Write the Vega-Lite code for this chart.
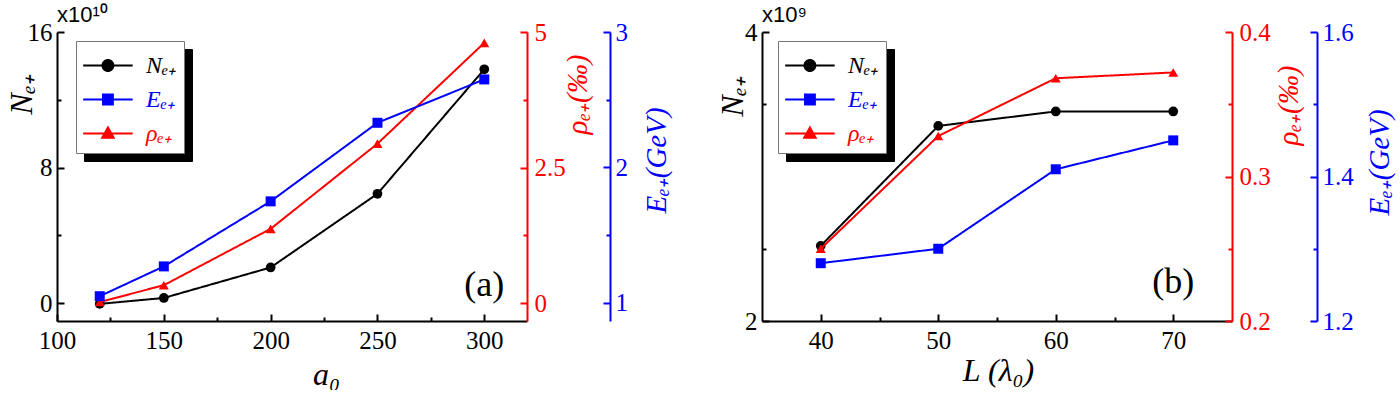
{
  "$schema": "https://vega.github.io/schema/vega-lite/v6.json",
  "background": "white",
  "padding": {"left": 5, "top": 4, "right": 5, "bottom": 0},
  "datasets": {
    "a": [
      {"a0": 120, "series": "N", "value": -0.05},
      {"a0": 150, "series": "N", "value": 0.3},
      {"a0": 200, "series": "N", "value": 2.1},
      {"a0": 250, "series": "N", "value": 6.45},
      {"a0": 300, "series": "N", "value": 13.8},
      {"a0": 120, "series": "E", "value": 1.05},
      {"a0": 150, "series": "E", "value": 1.27},
      {"a0": 200, "series": "E", "value": 1.75},
      {"a0": 250, "series": "E", "value": 2.33},
      {"a0": 300, "series": "E", "value": 2.65},
      {"a0": 120, "series": "rho", "value": 0.02},
      {"a0": 150, "series": "rho", "value": 0.33},
      {"a0": 200, "series": "rho", "value": 1.37},
      {"a0": 250, "series": "rho", "value": 2.94},
      {"a0": 300, "series": "rho", "value": 4.8}
    ],
    "b": [
      {"L": 40, "series": "N", "value": 2.52},
      {"L": 50, "series": "N", "value": 3.35},
      {"L": 60, "series": "N", "value": 3.45},
      {"L": 70, "series": "N", "value": 3.45},
      {"L": 40, "series": "E", "value": 1.28},
      {"L": 50, "series": "E", "value": 1.30},
      {"L": 60, "series": "E", "value": 1.41},
      {"L": 70, "series": "E", "value": 1.45},
      {"L": 40, "series": "rho", "value": 0.25},
      {"L": 50, "series": "rho", "value": 0.328},
      {"L": 60, "series": "rho", "value": 0.368},
      {"L": 70, "series": "rho", "value": 0.372}
    ],
    "la": [{"a0": 300, "value": 1.06, "label": "(a)"}],
    "lb": [{"L": 70, "value": 2.27, "label": "(b)"}]
  },
  "spacing": 45,
  "resolve": {"scale": {"color": "independent", "strokeDash": "independent"}, "legend": {"color": "independent", "strokeDash": "independent"}},
  "hconcat": [
    {
      "width": 470,
      "height": 289,
      "title": {"text": "x10¹⁰", "anchor": "start", "frame": "group", "font": "Liberation Sans", "fontSize": 22, "fontWeight": "normal", "offset": -7, "color": "black"},
      "data": {"name": "a"},
      "layer": [
        {
          "transform": [{"filter": "datum.series === 'N'"}],
          "mark": {"type": "line", "strokeWidth": 2},
          "encoding": {
            "x": {"field": "a0", "type": "quantitative", "scale": {"domain": [100, 320], "nice": false, "zero": false},
              "axis": {"orient": "bottom", "values": [100, 150, 200, 250, 300], "format": "d", "tickSize": -7, "labelPadding": 14, "labelFont": "Liberation Serif", "labelFontSize": 25, "labelColor": "black", "domainColor": "black", "tickColor": "black",
                "title": "a₀", "titleFont": "Liberation Serif", "titleFontStyle": "italic", "titleFontSize": 32, "titleColor": "black", "titleX": 269, "titleY": 53, "titleAlign": "center", "titleBaseline": "middle"}},
            "y": {"field": "value", "type": "quantitative", "scale": {"domain": [-1.06, 16], "nice": false, "zero": false},
              "axis": {"orient": "left", "values": [0, 8, 16], "format": "d", "tickSize": -7, "labelPadding": 12, "labelFont": "Liberation Serif", "labelFontSize": 25, "labelColor": "black", "domainColor": "black", "tickColor": "black",
                "title": "Nₑ₊", "titleFont": "Liberation Serif", "titleFontStyle": "italic", "titleFontSize": 32, "titleColor": "black", "titleAngle": -90, "titleX": -36, "titleY": 62, "titleAlign": "center", "titleBaseline": "middle"}},
            "color": {"field": "series", "type": "nominal", "scale": {"domain": ["N", "E", "rho"], "range": ["#000000", "#0000ff", "#ff0000"]},
              "legend": {"orient": "none", "legendX": 19, "legendY": 9, "title": null, "zindex": 2, "fillColor": "white", "strokeColor": "#777777",
                "padding": 7, "rowPadding": 4, "symbolSize": 1089, "labelOffset": 28, "labelFontSize": 24, "labelFont": "Liberation Serif", "labelFontStyle": "italic",
                "labelExpr": "datum.value === 'N' ? 'Nₑ₊' : datum.value === 'E' ? 'Eₑ₊' : 'ρₑ₊'",
                "encode": {
                  "symbols": {"update": {
                    "shape": {"signal": "datum.value === 'N' ? 'M-1.05,0H1.95M0.78,0A0.33,0.33 0 1,1 0.12,0A0.33,0.33 0 1,1 0.78,0Z' : datum.value === 'E' ? 'M-1.05,0H1.95M0.15,-0.3H0.75V0.3H0.15Z' : 'M-1.05,0H1.95M0.45,-0.36L0.8,0.26H0.1Z'"},
                    "fill": {"signal": "datum.value === 'N' ? '#000000' : datum.value === 'E' ? '#0000ff' : '#ff0000'"},
                    "stroke": {"signal": "datum.value === 'N' ? '#000000' : datum.value === 'E' ? '#0000ff' : '#ff0000'"},
                    "strokeWidth": {"value": 2}, "opacity": {"value": 1}, "strokeDash": {"value": [1, 0]}}},
                  "labels": {"update": {"fill": {"signal": "datum.value === 'N' ? '#000000' : datum.value === 'E' ? '#0000ff' : '#ff0000'"}}}
                }}},
            "strokeDash": {"field": "series", "type": "nominal", "scale": {"domain": ["E", "N", "rho"], "range": [[1, 0], [1, 0], [1, 0]]},
              "legend": {"orient": "none", "legendX": 27, "legendY": 17, "title": null, "zindex": 1, "fillColor": "black", "strokeColor": "black",
                "padding": 7, "rowPadding": 4, "symbolSize": 1089, "labelOffset": 59, "labelFontSize": 24, "labelFont": "Liberation Serif", "labelColor": "black",
                "labelExpr": "''",
                "encode": {"symbols": {"update": {"opacity": {"value": 0}}}}}}
          }
        },
        {
          "transform": [{"filter": "datum.series === 'N'"}],
          "mark": {"type": "point", "shape": "circle", "filled": true, "size": 95, "opacity": 1},
          "encoding": {
            "x": {"field": "a0", "type": "quantitative", "axis": {"orient": "bottom", "values": [125, 175, 225, 275], "tickSize": -4, "labels": false, "domain": false, "title": null, "tickColor": "black"}},
            "y": {"field": "value", "type": "quantitative", "scale": {"domain": [-1.06, 16], "nice": false, "zero": false},
              "axis": {"orient": "left", "values": [4, 12], "tickSize": -4, "labels": false, "domain": false, "title": null, "tickColor": "black"}},
            "color": {"field": "series", "type": "nominal"}
          }
        },
        {
          "transform": [{"filter": "datum.series === 'rho'"}],
          "mark": {"type": "line", "strokeWidth": 2},
          "encoding": {
            "x": {"field": "a0", "type": "quantitative", "axis": null},
            "y": {"field": "value", "type": "quantitative", "scale": {"domain": [-0.33, 5], "nice": false, "zero": false},
              "axis": {"orient": "right", "values": [0, 2.5, 5], "format": ".1~f", "tickSize": -7, "labelPadding": 14, "labelFont": "Liberation Serif", "labelFontSize": 25, "labelColor": "#ff0000", "domainColor": "#ff0000", "tickColor": "#ff0000",
                "title": "ρₑ₊(‰)", "titleFont": "Liberation Serif", "titleFontStyle": "italic", "titleFontSize": 29, "titleColor": "#ff0000", "titleAngle": -90, "titleX": 50, "titleY": 62, "titleAlign": "center", "titleBaseline": "middle"}},
            "color": {"field": "series", "type": "nominal"},
            "strokeDash": {"field": "series", "type": "nominal"}
          }
        },
        {
          "transform": [{"filter": "datum.series === 'rho'"}],
          "mark": {"type": "point", "shape": "triangle-up", "filled": true, "size": 100, "opacity": 1},
          "encoding": {
            "x": {"field": "a0", "type": "quantitative", "axis": null},
            "y": {"field": "value", "type": "quantitative", "scale": {"domain": [-0.33, 5], "nice": false, "zero": false},
              "axis": {"orient": "right", "values": [1.25, 3.75], "tickSize": -4, "labels": false, "domain": false, "title": null, "tickColor": "#ff0000"}},
            "color": {"field": "series", "type": "nominal"}
          }
        },
        {
          "transform": [{"filter": "datum.series === 'E'"}],
          "mark": {"type": "line", "strokeWidth": 2},
          "encoding": {
            "x": {"field": "a0", "type": "quantitative", "axis": null},
            "y": {"field": "value", "type": "quantitative", "scale": {"domain": [0.867, 3], "nice": false, "zero": false},
              "axis": {"orient": "right", "offset": 83, "values": [1, 2, 3], "format": "d", "tickSize": -7, "labelPadding": 12, "labelFont": "Liberation Serif", "labelFontSize": 25, "labelColor": "#0000ff", "domainColor": "#0000ff", "tickColor": "#0000ff",
                "title": "Eₑ₊(GeV)", "titleFont": "Liberation Serif", "titleFontStyle": "italic", "titleFontSize": 29, "titleColor": "#0000ff", "titleAngle": -90, "titleX": 46, "titleY": 128, "titleAlign": "center", "titleBaseline": "middle"}},
            "color": {"field": "series", "type": "nominal"},
            "strokeDash": {"field": "series", "type": "nominal"}
          }
        },
        {
          "transform": [{"filter": "datum.series === 'E'"}],
          "mark": {"type": "point", "shape": "square", "filled": true, "size": 100, "opacity": 1},
          "encoding": {
            "x": {"field": "a0", "type": "quantitative", "axis": null},
            "y": {"field": "value", "type": "quantitative", "scale": {"domain": [0.867, 3], "nice": false, "zero": false},
              "axis": {"orient": "right", "offset": 83, "values": [1.5, 2.5], "tickSize": -4, "labels": false, "domain": false, "title": null, "tickColor": "#0000ff"}},
            "color": {"field": "series", "type": "nominal"}
          }
        },
        {
          "data": {"name": "la"},
          "mark": {"type": "text", "font": "Liberation Serif", "fontSize": 36, "align": "center", "baseline": "middle", "color": "black"},
          "encoding": {
            "x": {"field": "a0", "type": "quantitative", "axis": null},
            "y": {"field": "value", "type": "quantitative", "scale": {"domain": [-1.06, 16], "nice": false, "zero": false}, "axis": null},
            "text": {"field": "label"}
          }
        }
      ],
      "resolve": {"scale": {"y": "independent"}, "axis": {"x": "independent", "y": "independent"}}
    },
    {
      "width": 470,
      "height": 289,
      "title": {"text": "x10⁹", "anchor": "start", "frame": "group", "font": "Liberation Sans", "fontSize": 22, "fontWeight": "normal", "offset": -7, "color": "black"},
      "data": {"name": "b"},
      "layer": [
        {
          "transform": [{"filter": "datum.series === 'N'"}],
          "mark": {"type": "line", "strokeWidth": 2},
          "encoding": {
            "x": {"field": "L", "type": "quantitative", "scale": {"domain": [35, 75], "nice": false, "zero": false},
              "axis": {"orient": "bottom", "values": [40, 50, 60, 70], "format": "d", "tickSize": -7, "labelPadding": 14, "labelFont": "Liberation Serif", "labelFontSize": 25, "labelColor": "black", "domainColor": "black", "tickColor": "black",
                "title": "L (λ₀)", "titleFont": "Liberation Serif", "titleFontStyle": "italic", "titleFontSize": 32, "titleColor": "black", "titleX": 236, "titleY": 49, "titleAlign": "center", "titleBaseline": "middle"}},
            "y": {"field": "value", "type": "quantitative", "scale": {"domain": [2, 4], "nice": false, "zero": false},
              "axis": {"orient": "left", "values": [2, 3, 4], "format": "d", "tickSize": -7, "labelPadding": 12, "labelFont": "Liberation Serif", "labelFontSize": 25, "labelColor": "black", "domainColor": "black", "tickColor": "black",
                "title": "Nₑ₊", "titleFont": "Liberation Serif", "titleFontStyle": "italic", "titleFontSize": 32, "titleColor": "black", "titleAngle": -90, "titleX": -30, "titleY": 64, "titleAlign": "center", "titleBaseline": "middle"}},
            "color": {"field": "series", "type": "nominal", "scale": {"domain": ["N", "E", "rho"], "range": ["#000000", "#0000ff", "#ff0000"]},
              "legend": {"orient": "none", "legendX": 16, "legendY": 9, "title": null, "zindex": 2, "fillColor": "white", "strokeColor": "#777777",
                "padding": 7, "rowPadding": 4, "symbolSize": 1089, "labelOffset": 28, "labelFontSize": 24, "labelFont": "Liberation Serif", "labelFontStyle": "italic",
                "labelExpr": "datum.value === 'N' ? 'Nₑ₊' : datum.value === 'E' ? 'Eₑ₊' : 'ρₑ₊'",
                "encode": {
                  "symbols": {"update": {
                    "shape": {"signal": "datum.value === 'N' ? 'M-1.05,0H1.95M0.78,0A0.33,0.33 0 1,1 0.12,0A0.33,0.33 0 1,1 0.78,0Z' : datum.value === 'E' ? 'M-1.05,0H1.95M0.15,-0.3H0.75V0.3H0.15Z' : 'M-1.05,0H1.95M0.45,-0.36L0.8,0.26H0.1Z'"},
                    "fill": {"signal": "datum.value === 'N' ? '#000000' : datum.value === 'E' ? '#0000ff' : '#ff0000'"},
                    "stroke": {"signal": "datum.value === 'N' ? '#000000' : datum.value === 'E' ? '#0000ff' : '#ff0000'"},
                    "strokeWidth": {"value": 2}, "opacity": {"value": 1}, "strokeDash": {"value": [1, 0]}}},
                  "labels": {"update": {"fill": {"signal": "datum.value === 'N' ? '#000000' : datum.value === 'E' ? '#0000ff' : '#ff0000'"}}}
                }}},
            "strokeDash": {"field": "series", "type": "nominal", "scale": {"domain": ["E", "N", "rho"], "range": [[1, 0], [1, 0], [1, 0]]},
              "legend": {"orient": "none", "legendX": 24, "legendY": 17, "title": null, "zindex": 1, "fillColor": "black", "strokeColor": "black",
                "padding": 7, "rowPadding": 4, "symbolSize": 1089, "labelOffset": 59, "labelFontSize": 24, "labelFont": "Liberation Serif", "labelColor": "black",
                "labelExpr": "''",
                "encode": {"symbols": {"update": {"opacity": {"value": 0}}}}}}
          }
        },
        {
          "transform": [{"filter": "datum.series === 'N'"}],
          "mark": {"type": "point", "shape": "circle", "filled": true, "size": 95, "opacity": 1},
          "encoding": {
            "x": {"field": "L", "type": "quantitative", "axis": {"orient": "bottom", "values": [45, 55, 65], "tickSize": -4, "labels": false, "domain": false, "title": null, "tickColor": "black"}},
            "y": {"field": "value", "type": "quantitative", "scale": {"domain": [2, 4], "nice": false, "zero": false},
              "axis": {"orient": "left", "values": [2.5, 3.5], "tickSize": -4, "labels": false, "domain": false, "title": null, "tickColor": "black"}},
            "color": {"field": "series", "type": "nominal"}
          }
        },
        {
          "transform": [{"filter": "datum.series === 'rho'"}],
          "mark": {"type": "line", "strokeWidth": 2},
          "encoding": {
            "x": {"field": "L", "type": "quantitative", "axis": null},
            "y": {"field": "value", "type": "quantitative", "scale": {"domain": [0.2, 0.4], "nice": false, "zero": false},
              "axis": {"orient": "right", "values": [0.2, 0.3, 0.4], "format": ".1f", "tickSize": -7, "labelPadding": 14, "labelFont": "Liberation Serif", "labelFontSize": 25, "labelColor": "#ff0000", "domainColor": "#ff0000", "tickColor": "#ff0000",
                "title": "ρₑ₊(‰)", "titleFont": "Liberation Serif", "titleFontStyle": "italic", "titleFontSize": 29, "titleColor": "#ff0000", "titleAngle": -90, "titleX": 56, "titleY": 73, "titleAlign": "center", "titleBaseline": "middle"}},
            "color": {"field": "series", "type": "nominal"},
            "strokeDash": {"field": "series", "type": "nominal"}
          }
        },
        {
          "transform": [{"filter": "datum.series === 'rho'"}],
          "mark": {"type": "point", "shape": "triangle-up", "filled": true, "size": 100, "opacity": 1},
          "encoding": {
            "x": {"field": "L", "type": "quantitative", "axis": null},
            "y": {"field": "value", "type": "quantitative", "scale": {"domain": [0.2, 0.4], "nice": false, "zero": false},
              "axis": {"orient": "right", "values": [0.25, 0.35], "tickSize": -4, "labels": false, "domain": false, "title": null, "tickColor": "#ff0000"}},
            "color": {"field": "series", "type": "nominal"}
          }
        },
        {
          "transform": [{"filter": "datum.series === 'E'"}],
          "mark": {"type": "line", "strokeWidth": 2},
          "encoding": {
            "x": {"field": "L", "type": "quantitative", "axis": null},
            "y": {"field": "value", "type": "quantitative", "scale": {"domain": [1.2, 1.6], "nice": false, "zero": false},
              "axis": {"orient": "right", "offset": 85, "values": [1.2, 1.4, 1.6], "format": ".1f", "tickSize": -7, "labelPadding": 12, "labelFont": "Liberation Serif", "labelFontSize": 25, "labelColor": "#0000ff", "domainColor": "#0000ff", "tickColor": "#0000ff",
                "title": "Eₑ₊(GeV)", "titleFont": "Liberation Serif", "titleFontStyle": "italic", "titleFontSize": 29, "titleColor": "#0000ff", "titleAngle": -90, "titleX": 62, "titleY": 130, "titleAlign": "center", "titleBaseline": "middle"}},
            "color": {"field": "series", "type": "nominal"},
            "strokeDash": {"field": "series", "type": "nominal"}
          }
        },
        {
          "transform": [{"filter": "datum.series === 'E'"}],
          "mark": {"type": "point", "shape": "square", "filled": true, "size": 100, "opacity": 1},
          "encoding": {
            "x": {"field": "L", "type": "quantitative", "axis": null},
            "y": {"field": "value", "type": "quantitative", "scale": {"domain": [1.2, 1.6], "nice": false, "zero": false},
              "axis": {"orient": "right", "offset": 85, "values": [1.3, 1.5], "tickSize": -4, "labels": false, "domain": false, "title": null, "tickColor": "#0000ff"}},
            "color": {"field": "series", "type": "nominal"}
          }
        },
        {
          "data": {"name": "lb"},
          "mark": {"type": "text", "font": "Liberation Serif", "fontSize": 36, "align": "center", "baseline": "middle", "color": "black"},
          "encoding": {
            "x": {"field": "L", "type": "quantitative", "axis": null},
            "y": {"field": "value", "type": "quantitative", "scale": {"domain": [2, 4], "nice": false, "zero": false}, "axis": null},
            "text": {"field": "label"}
          }
        }
      ],
      "resolve": {"scale": {"y": "independent"}, "axis": {"x": "independent", "y": "independent"}}
    }
  ],
  "config": {
    "view": {"stroke": null},
    "title": {"fontSize": 22, "font": "Liberation Sans", "fontWeight": "normal"},
    "axis": {"grid": false, "labelFont": "Liberation Serif", "titleFont": "Liberation Serif", "labelFlush": false, "labelOverlap": false, "titleFontWeight": "normal", "domainWidth": 2, "tickWidth": 2}
  }
}
